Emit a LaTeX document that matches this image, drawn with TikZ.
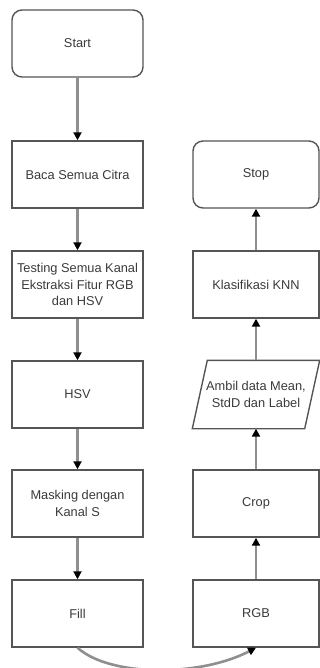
\documentclass[tikz,border=0pt]{standalone}
\usepackage{fontspec}
\setmainfont{Liberation Sans}
\usetikzlibrary{arrows.meta,calc}
\definecolor{boxline}{HTML}{555555}
\definecolor{conn}{HTML}{8F8F8F}
\definecolor{txt}{HTML}{3A3A3A}
\begin{document}
\begin{tikzpicture}[x=1pt,y=1pt,
  base/.style={minimum width=131pt,minimum height=67pt,inner sep=1pt,align=center,
    text=txt,font=\fontsize{12.8}{16.5}\selectfont,line width=1.4pt},
  procbox/.style={base,draw=boxline},
  termbox/.style={base,draw=boxline,rounded corners=10pt},
  iobox/.style={base},
  flow/.style={draw=conn,line width=2.6pt,-{Triangle[length=8pt,width=8pt,color=black]}}
]
\useasboundingbox (0,0) rectangle (320,-668);
% left column
\node[termbox] (start) at (77.5,-43.5) {Start};
\node[procbox] (baca) at (77.5,-174.5) {Baca Semua Citra};
\node[procbox] (test) at (77.5,-284.5) {Testing Semua Kanal\\Ekstraksi Fitur RGB\\dan HSV};
\node[procbox] (hsv) at (77.5,-394.5) {HSV};
\node[procbox] (mask) at (77.5,-503.5) {Masking dengan\\Kanal S};
\node[procbox] (fill) at (77.5,-613.5) {Fill};
% right column
\node[termbox,minimum width=126pt] (stop) at (256,-174.5) {Stop};
\node[procbox,minimum width=126pt] (knn) at (256,-284.5) {Klasifikasi KNN};
\node[iobox,minimum width=126pt] (ambil) at (256,-394.5) {Ambil data Mean,\\StdD dan Label};
\draw[draw=boxline,line width=1.4pt]
  ($(ambil.south west)$) -- ($(ambil.north west)+(15,0)$) -- (ambil.north east)
  -- ($(ambil.south east)+(-15,0)$) -- cycle;
\node[procbox,minimum width=126pt] (crop) at (256,-503.5) {Crop};
\node[procbox,minimum width=126pt] (rgb) at (256,-613.5) {RGB};
% connectors
\draw[flow] (start) -- (baca);
\draw[flow] (baca) -- (test);
\draw[flow] (test) -- (hsv);
\draw[flow] (hsv) -- (mask);
\draw[flow] (mask) -- (fill);
\draw[flow] (fill.south) .. controls (110,-677) and (200,-677) .. (rgb.south);
\draw[flow] (rgb) -- (crop);
\draw[flow] (crop) -- (ambil);
\draw[flow] (ambil) -- (knn);
\draw[flow] (knn) -- (stop);
\end{tikzpicture}
\end{document}
